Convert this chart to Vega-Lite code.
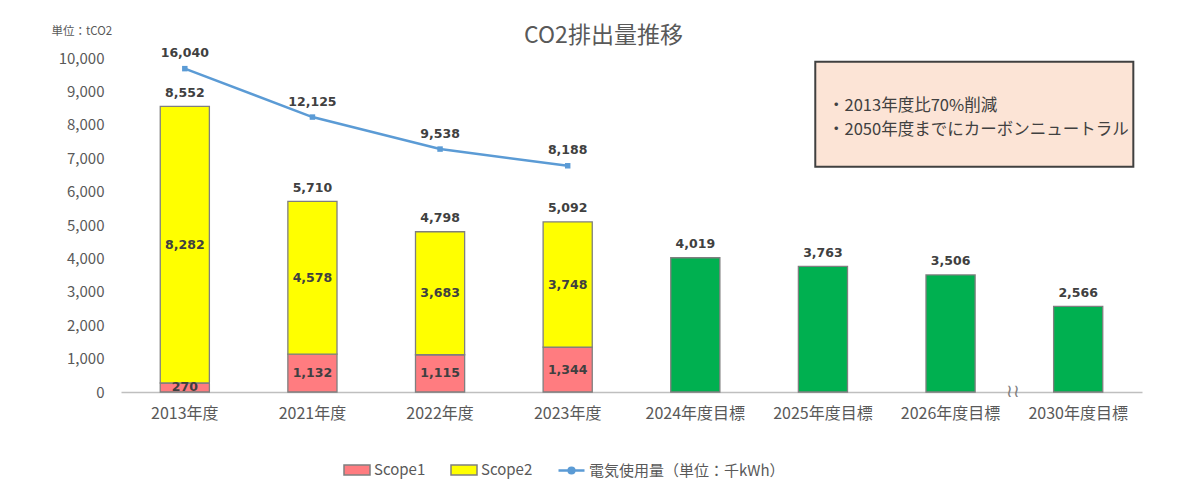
{
  "$schema": "https://vega.github.io/schema/vega-lite/v6.json",
  "width": 1021,
  "height": 334,
  "autosize": {"type": "none"},
  "padding": {"left": 121, "top": 58, "right": 55, "bottom": 100},
  "background": "white",
  "config": {"view": {"stroke": null}, "font": "Noto Sans CJK JP"},
  "title": {"text": "CO2排出量推移", "fontSize": 23, "fontWeight": "normal", "color": "#595959", "font": "Noto Sans CJK JP", "anchor": "middle", "frame": "group", "dx": -28, "offset": 0, "dy": 23},
  "datasets": {
    "emissions": [
      {"year": "2013年度", "type": "Scope1", "value": 270},
      {"year": "2013年度", "type": "Scope2", "value": 8282},
      {"year": "2021年度", "type": "Scope1", "value": 1132},
      {"year": "2021年度", "type": "Scope2", "value": 4578},
      {"year": "2022年度", "type": "Scope1", "value": 1115},
      {"year": "2022年度", "type": "Scope2", "value": 3683},
      {"year": "2023年度", "type": "Scope1", "value": 1344},
      {"year": "2023年度", "type": "Scope2", "value": 3748}
    ],
    "targets": [
      {"year": "2024年度目標", "value": 4019},
      {"year": "2025年度目標", "value": 3763},
      {"year": "2026年度目標", "value": 3506},
      {"year": "2030年度目標", "value": 2566}
    ],
    "tops": [
      {"year": "2013年度", "total": 8552},
      {"year": "2021年度", "total": 5710},
      {"year": "2022年度", "total": 4798},
      {"year": "2023年度", "total": 5092},
      {"year": "2024年度目標", "total": 4019},
      {"year": "2025年度目標", "total": 3763},
      {"year": "2026年度目標", "total": 3506},
      {"year": "2030年度目標", "total": 2566}
    ],
    "electricity": [
      {"year": "2013年度", "series": "電気使用量（単位：千kWh）", "kwh": 16040},
      {"year": "2021年度", "series": "電気使用量（単位：千kWh）", "kwh": 12125},
      {"year": "2022年度", "series": "電気使用量（単位：千kWh）", "kwh": 9538},
      {"year": "2023年度", "series": "電気使用量（単位：千kWh）", "kwh": 8188}
    ]
  },
  "layer": [
    {
      "encoding": {
        "x": {
          "field": "year", "type": "nominal",
          "scale": {"domain": ["2013年度", "2021年度", "2022年度", "2023年度", "2024年度目標", "2025年度目標", "2026年度目標", "2030年度目標"], "paddingInner": 0.615, "paddingOuter": 0.3075},
          "axis": {"title": null, "labelAngle": 0, "ticks": false, "domainColor": "#bfbfbf", "domainWidth": 1.5, "labelFontSize": 16, "labelColor": "#595959", "labelPadding": 13, "labelFont": "Noto Sans CJK JP"}
        }
      },
      "layer": [
        {
          "layer": [
            {
              "data": {"name": "emissions"},
              "mark": {"type": "bar", "stroke": "#7f7f7f", "strokeWidth": 1.3},
              "encoding": {
                "y": {
                  "field": "value", "type": "quantitative", "stack": "zero",
                  "scale": {"domain": [0, 10000], "nice": false},
                  "axis": {"orient": "left", "title": "単位：tCO2", "titleAngle": 0, "titleAlign": "left", "titleBaseline": "middle", "titleX": -70, "titleY": -27, "titleFontSize": 11.5, "titleFontWeight": "normal", "titleColor": "#595959", "titleFont": "Noto Sans CJK JP", "grid": false, "domain": false, "ticks": false, "labelPadding": 17, "labelFontSize": 15, "labelColor": "#595959", "labelFont": "Noto Sans CJK JP", "values": [0, 1000, 2000, 3000, 4000, 5000, 6000, 7000, 8000, 9000, 10000], "format": ",.0f", "labelOverlap": false}
                },
                "color": {
                  "field": "type", "type": "nominal",
                  "scale": {"domain": ["Scope1", "Scope2"], "range": ["#ff7c80", "#ffff00"]},
                  "legend": {
                    "orient": "none", "legendX": 222, "legendY": 398, "direction": "horizontal", "title": null,
                    "labelFont": "Noto Sans CJK JP", "labelFontSize": 15, "labelColor": "#595959", "labelLimit": 400,
                    "symbolType": "M-1,-0.38H1V0.38H-1Z", "symbolSize": 676, "symbolStrokeColor": "#7f7f7f", "symbolStrokeWidth": 1.5,
                    "columnPadding": 22, "labelOffset": 3
                  }
                },
                "order": {"field": "type", "sort": "ascending"}
              }
            },
            {
              "data": {"name": "emissions"},
              "mark": {"type": "text", "baseline": "middle", "font": "DejaVu Sans", "fontWeight": "bold", "fontSize": 12.5, "color": "#404040"},
              "encoding": {
                "y": {"field": "value", "type": "quantitative", "stack": "zero", "bandPosition": 0.5,
                  "axis": {"orient": "left", "title": "単位：tCO2", "titleAngle": 0, "titleAlign": "left", "titleBaseline": "middle", "titleX": -70, "titleY": -27, "titleFontSize": 11.5, "titleFontWeight": "normal", "titleColor": "#595959", "titleFont": "Noto Sans CJK JP", "grid": false, "domain": false, "ticks": false, "labelPadding": 17, "labelFontSize": 15, "labelColor": "#595959", "labelFont": "Noto Sans CJK JP", "values": [0, 1000, 2000, 3000, 4000, 5000, 6000, 7000, 8000, 9000, 10000], "format": ",.0f", "labelOverlap": false}},
                "detail": {"field": "type"},
                "order": {"field": "type", "sort": "ascending"},
                "text": {"field": "value", "type": "quantitative", "format": ","}
              }
            },
            {
              "data": {"name": "targets"},
              "mark": {"type": "bar", "color": "#00b050", "stroke": "#7f7f7f", "strokeWidth": 1.3},
              "encoding": {"y": {"field": "value", "type": "quantitative",
                "axis": {"orient": "left", "title": "単位：tCO2", "titleAngle": 0, "titleAlign": "left", "titleBaseline": "middle", "titleX": -70, "titleY": -27, "titleFontSize": 11.5, "titleFontWeight": "normal", "titleColor": "#595959", "titleFont": "Noto Sans CJK JP", "grid": false, "domain": false, "ticks": false, "labelPadding": 17, "labelFontSize": 15, "labelColor": "#595959", "labelFont": "Noto Sans CJK JP", "values": [0, 1000, 2000, 3000, 4000, 5000, 6000, 7000, 8000, 9000, 10000], "format": ",.0f", "labelOverlap": false}}}
            },
            {
              "data": {"name": "tops"},
              "mark": {"type": "text", "baseline": "alphabetic", "dy": -9.5, "font": "DejaVu Sans", "fontWeight": "bold", "fontSize": 12.5, "color": "#404040"},
              "encoding": {
                "y": {"field": "total", "type": "quantitative",
                  "axis": {"orient": "left", "title": "単位：tCO2", "titleAngle": 0, "titleAlign": "left", "titleBaseline": "middle", "titleX": -70, "titleY": -27, "titleFontSize": 11.5, "titleFontWeight": "normal", "titleColor": "#595959", "titleFont": "Noto Sans CJK JP", "grid": false, "domain": false, "ticks": false, "labelPadding": 17, "labelFontSize": 15, "labelColor": "#595959", "labelFont": "Noto Sans CJK JP", "values": [0, 1000, 2000, 3000, 4000, 5000, 6000, 7000, 8000, 9000, 10000], "format": ",.0f", "labelOverlap": false}},
                "text": {"field": "total", "type": "quantitative", "format": ","}
              }
            }
          ]
        },
        {
          "data": {"name": "electricity"},
          "encoding": {
            "y": {"field": "kwh", "type": "quantitative", "scale": {"domain": [-10100, 16900], "nice": false, "zero": false}, "axis": null}
          },
          "layer": [
            {
              "mark": {"type": "line", "strokeWidth": 2.5},
              "encoding": {
                "stroke": {
                  "field": "series", "type": "nominal",
                  "scale": {"range": ["#5b9bd5"]},
                  "legend": {
                    "orient": "none", "legendX": 436, "legendY": 398, "direction": "horizontal", "title": null,
                    "labelFont": "Noto Sans CJK JP", "labelFontSize": 15, "labelColor": "#595959", "labelLimit": 400,
                    "symbolType": "M-1,0H1M-0.22,0A0.22,0.22 0 1,0 0.22,0A0.22,0.22 0 1,0 -0.22,0",
                    "symbolSize": 676, "symbolStrokeWidth": 2.5, "symbolFillColor": "#5b9bd5", "labelOffset": 3
                  }
                }
              }
            },
            {"mark": {"type": "point", "shape": "square", "filled": true, "size": 30, "color": "#5b9bd5", "opacity": 1}},
            {
              "mark": {"type": "text", "baseline": "alphabetic", "dy": -11.5, "font": "DejaVu Sans", "fontWeight": "bold", "fontSize": 12.5, "color": "#404040"},
              "encoding": {"text": {"field": "kwh", "type": "quantitative", "format": ","}}
            }
          ]
        }
      ],
      "resolve": {"scale": {"y": "independent"}}
    },
    {
      "data": {"values": [{}]},
      "layer": [
        {
          "mark": {"type": "rect", "fill": "#fce4d6", "stroke": "#404040", "strokeWidth": 2},
          "encoding": {
            "x": {"datum": 0.680, "type": "quantitative", "scale": {"domain": [0, 1], "nice": false}, "axis": null},
            "x2": {"datum": 0.9915},
            "y": {"datum": 9889, "type": "quantitative", "scale": {"domain": [0, 10000], "nice": false}, "axis": null},
            "y2": {"datum": 6746}
          }
        },
        {
          "mark": {"type": "text", "align": "left", "baseline": "middle", "fontSize": 16.5, "color": "#404040", "lineHeight": 24, "font": "Noto Sans CJK JP", "text": ["・2013年度比70%削減", "・2050年度までにカーボンニュートラル"]},
          "encoding": {
            "x": {"datum": 0.6925, "type": "quantitative"},
            "y": {"datum": 8548, "type": "quantitative"}
          }
        },
        {
          "mark": {"type": "text", "text": "≀≀", "fontSize": 18, "color": "#7f7f7f", "baseline": "middle"},
          "encoding": {
            "x": {"datum": 0.874, "type": "quantitative"},
            "y": {"datum": 0, "type": "quantitative"}
          }
        }
      ]
    }
  ],
  "resolve": {"scale": {"x": "independent", "y": "independent"}}
}
